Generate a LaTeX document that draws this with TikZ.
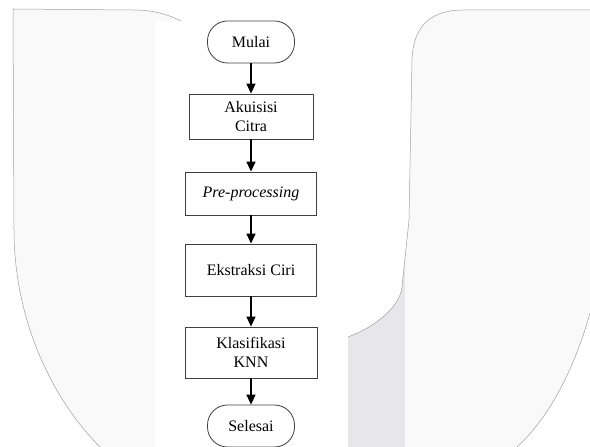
\documentclass[tikz,border=0pt]{standalone}
\usepackage{fontspec}
\setmainfont{Liberation Serif}
\usepackage{tikz}
\usetikzlibrary{positioning,arrows.meta}

\begin{document}
\begin{tikzpicture}[x=1pt, y=1pt,
        proses/.style={draw=black!75, line width=0.8pt, minimum width=131pt, minimum height=45pt,
            align=center, inner sep=2pt, font=\fontsize{16}{18.5}\selectfont},
        terminal/.style={proses, rounded corners=20pt, minimum width=87pt, minimum height=42pt},
        panah/.style={-{Triangle[length=10pt,width=9pt]}, line width=1.3pt}]
            % warna latar (logo samar di belakang)
            \definecolor{latar}{HTML}{F9F9F9}
            \definecolor{pita}{HTML}{E7E7E9}
            \definecolor{garis}{HTML}{A0A0A0}
            \useasboundingbox (0,0) rectangle (590,447);
            % perisai kiri
            \fill[latar] (100,0) .. controls (50,50) and (14,130) .. (14,217) -- (13,438) -- (133,437)
                .. controls (155,437) and (170,432) .. (185,424) -- (185,0) -- cycle;
            \draw[garis, line width=0.5pt] (100,0) .. controls (50,50) and (14,130) .. (14,217) -- (13,438)
                -- (133,437) .. controls (155,437) and (170,432) .. (185,424);
            \fill[white] (155,0) rectangle (348,426);
            % bentuk kanan
            \fill[latar] (463,437) -- (590,437) -- (590,134) .. controls (575,80) and (550,30) .. (517,0)
                -- (348,0) -- (348,110) .. controls (375,120) and (400,140) .. (402,160) -- (409,227)
                -- (412,387) .. controls (413,420) and (430,437) .. (463,437) -- cycle;
            \begin{scope}
                \clip (348,0) -- (348,110) .. controls (375,120) and (400,140) .. (402,160) -- (409,227)
                    -- (409,0) -- cycle;
                \fill[pita] (348,0) rectangle (405,447);
            \end{scope}
            \draw[garis, line width=0.5pt] (348,110) .. controls (375,120) and (400,140) .. (402,160)
                -- (409,227) -- (412,387) .. controls (413,420) and (430,437) .. (463,437) -- (590,437);
            \draw[garis, line width=0.5pt] (590,134) .. controls (575,80) and (550,30) .. (517,0);
            % diagram alir
            \node[terminal] (mulai) at (251,405) {Mulai};
            \node[proses, minimum width=124pt] (akuisisi) at (251,330.5) {Akuisisi\\Citra};
            \node[proses, minimum height=43pt] (pre) at (251,253.5) {\textit{Pre-processing}};
            \node[proses, minimum height=52pt] (ekstraksi) at (251,177) {Ekstraksi Ciri};
            \node[proses, minimum width=132pt, minimum height=51pt] (klasifikasi) at (251,94.5) {Klasifikasi\\KNN};
            \node[terminal] (selesai) at (251,21) {Selesai};
            \draw[panah] (mulai) -- (akuisisi);
            \draw[panah] (akuisisi) -- (pre);
            \draw[panah] (pre) -- (ekstraksi);
            \draw[panah] (ekstraksi) -- (klasifikasi);
            \draw[panah] (klasifikasi) -- (selesai);
        \end{tikzpicture}
\end{document}
